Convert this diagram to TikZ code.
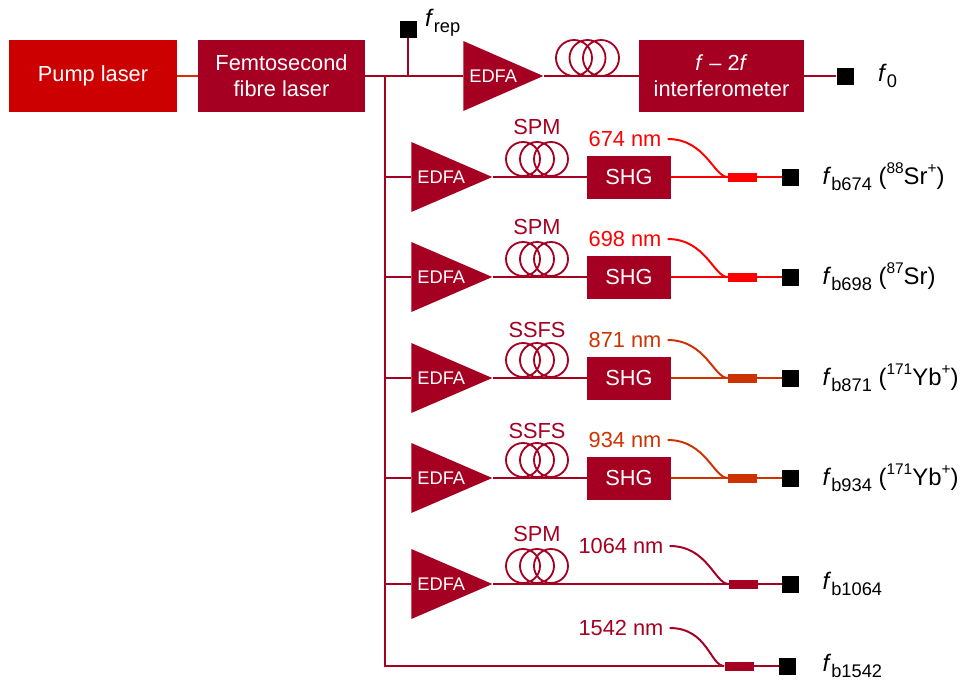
\documentclass[tikz,border=0pt]{standalone}
\usepackage{fontspec}
\setmainfont{Liberation Sans}
\usetikzlibrary{shapes.geometric,positioning}

\definecolor{crimson}{HTML}{A50021}
\definecolor{pumpred}{HTML}{CC0000}
\definecolor{visred}{HTML}{FF0000}
\definecolor{nirorange}{HTML}{CC3300}

\newcommand{\fsub}[1]{\textit{f}\raisebox{-0.5ex}{\fontsize{13}{15}\selectfont #1}}
\newcommand{\fsup}[1]{\raisebox{0.85ex}{\fontsize{11}{13}\selectfont #1}}

\tikzset{
	box/.style={fill=crimson, text=white, inner sep=0pt, minimum height=18mm, align=center, font=\fontsize{15.5}{18.5}\selectfont},
	shg/.style={fill=crimson, text=white, inner sep=0pt, minimum width=21mm, minimum height=10.75mm, font=\fontsize{15.5}{18.5}\selectfont},
	amp/.style={shape=isosceles triangle, isosceles triangle stretches, fill=crimson, inner sep=0pt, minimum height=20.25mm, minimum width=17.5mm, anchor=west,
		label={[text=white, font=\fontsize{13}{15}\selectfont, xshift=1.75mm]center:EDFA}},
	fibre/.style={draw=crimson, line width=1.4pt},
	coil/.style={draw=crimson, line width=1.3pt},
	det/.style={fill=black, inner sep=0pt, minimum size=4.25mm},
	cpl/.style={fill=#1, inner sep=0pt, minimum width=7.25mm, minimum height=2.25mm},
	nm/.style={inner xsep=1.5mm, inner ysep=0pt, font=\fontsize{15.5}{18.5}\selectfont},
	tag/.style={inner sep=0pt, font=\fontsize{17}{20}\selectfont},
}

\begin{document}
\begin{tikzpicture}[x=0.25mm, y=-0.25mm]
	\useasboundingbox (0,0) rectangle (976,688);
	
	% source and f-2f
	\node[box, fill=pumpred, minimum width=42mm] (pump) at (93,76) {Pump laser};
	\node[box, minimum width=41.75mm] (femto) at (281.5,76) {Femtosecond\\fibre laser};
	\node[amp, minimum height=20mm] (amp0) at (463,76) {};
	\node[box, minimum width=41.25mm] (f2f) at (721.5,76) {\textit{f} -- 2\textit{f}\\interferometer};
	\node[det] (det0) at (845,76) {};
	\node[tag, right=6mm of det0] (lab0) {\fsub{0}};
	\node[det] (detrep) at (408,29) {};
	\node[tag, right=2mm of detrep, yshift=1.5mm] (labrep) {\fsub{rep}};
	\coordinate (split) at (385,76);
	\coordinate (tap) at (408,76);
	\coordinate (foot) at (385,666);
	
	\draw[fibre, draw=nirorange] (pump.east) -- (femto.west);
	\draw[fibre] (femto.east) -- (amp0.west);
	\draw[fibre] (amp0.east) -- (f2f.west);
	\draw[fibre] (f2f.east) -- (det0.west);
	\draw[fibre] (tap) -- (detrep.south);
	\draw[coil] (574,58) circle[radius=18] (587.5,58) circle[radius=18] (601,58) circle[radius=18];
	
	% amplifiers
	\node[amp] (amp1) at (411,177) {};
	\node[amp] (amp2) at (411,277) {};
	\node[amp] (amp3) at (411,378) {};
	\node[amp] (amp4) at (411,478) {};
	\node[amp] (amp5) at (411,584) {};
	
	\node[text=crimson, nm] (nl1) at (537,127) {SPM};
	\node[text=crimson, nm] (nl2) at (537,227) {SPM};
	\node[text=crimson, nm] (nl3) at (537,330) {SSFS};
	\node[text=crimson, nm] (nl4) at (537,431) {SSFS};
	\node[text=crimson, nm] (nl5) at (537,534) {SPM};
	
	\draw[coil] (523,159) circle[radius=17] (537,159) circle[radius=17] (551,159) circle[radius=17];
	\draw[coil] (523,259) circle[radius=17] (537,259) circle[radius=17] (551,259) circle[radius=17];
	\draw[coil] (523,360) circle[radius=17] (537,360) circle[radius=17] (551,360) circle[radius=17];
	\draw[coil] (523,460) circle[radius=17] (537,460) circle[radius=17] (551,460) circle[radius=17];
	\draw[coil] (523,566) circle[radius=17] (537,566) circle[radius=17] (551,566) circle[radius=17];
	
	% doublers
	\node[shg] (shg1) at (629,177) {SHG};
	\node[shg] (shg2) at (629,277) {SHG};
	\node[shg] (shg3) at (629,378) {SHG};
	\node[shg] (shg4) at (629,478) {SHG};
	
	% wavelengths
	\node[nm, text=visred] (w1) at (625,139) {674 nm};
	\node[nm, text=visred] (w2) at (625,239) {698 nm};
	\node[nm, text=nirorange] (w3) at (625,340) {871 nm};
	\node[nm, text=nirorange] (w4) at (625,440) {934 nm};
	\node[nm, text=crimson] (w5) at (621,546) {1064 nm};
	\node[nm, text=crimson] (w6) at (621,628) {1542 nm};
	
	% couplers and beat detectors
	\node[cpl=visred] (cpl1) at (742.5,177) {};
	\node[cpl=visred] (cpl2) at (742.5,277) {};
	\node[cpl=nirorange] (cpl3) at (742.5,378) {};
	\node[cpl=nirorange] (cpl4) at (742.5,478) {};
	\node[cpl=crimson] (cpl5) at (743.5,584) {};
	\node[cpl=crimson] (cpl6) at (739,666) {};
	
	\node[det] (det1) at (790.5,177) {};
	\node[det] (det2) at (790.5,277) {};
	\node[det] (det3) at (790.5,378) {};
	\node[det] (det4) at (790.5,478) {};
	\node[det] (det5) at (790.5,584) {};
	\node[det] (det6) at (787.5,666) {};
	
	\node[tag, right=5.75mm of det1] (lab1) {\fsub{b674} (\fsup{88}Sr\fsup{+})};
	\node[tag, right=5.75mm of det2] (lab2) {\fsub{b698} (\fsup{87}Sr)};
	\node[tag, right=5.75mm of det3] (lab3) {\fsub{b871} (\fsup{171}Yb\fsup{+})};
	\node[tag, right=5.75mm of det4] (lab4) {\fsub{b934} (\fsup{171}Yb\fsup{+})};
	\node[tag, right=5.75mm of det5] (lab5) {\fsub{b1064}};
	\node[tag, right=6.5mm of det6] (lab6) {\fsub{b1542}};
	
	% fibre runs
	\draw[fibre] (split) -- (foot) -- (cpl6.west);
	\draw[fibre] (amp1.west -| split) -- (amp1.west);
	\draw[fibre] (amp2.west -| split) -- (amp2.west);
	\draw[fibre] (amp3.west -| split) -- (amp3.west);
	\draw[fibre] (amp4.west -| split) -- (amp4.west);
	\draw[fibre] (amp5.west -| split) -- (amp5.west);
	
	\draw[fibre] (amp1.east) -- (shg1.west);
	\draw[fibre] (amp2.east) -- (shg2.west);
	\draw[fibre] (amp3.east) -- (shg3.west);
	\draw[fibre] (amp4.east) -- (shg4.west);
	\draw[fibre] (amp5.east) -- (cpl5.west);
	
	\draw[fibre, draw=visred] (shg1.east) -- (cpl1.west) (cpl1.east) -- (det1.west);
	\draw[fibre, draw=visred] (shg2.east) -- (cpl2.west) (cpl2.east) -- (det2.west);
	\draw[fibre, draw=nirorange] (shg3.east) -- (cpl3.west) (cpl3.east) -- (det3.west);
	\draw[fibre, draw=nirorange] (shg4.east) -- (cpl4.west) (cpl4.east) -- (det4.west);
	\draw[fibre] (cpl5.east) -- (det5.west);
	\draw[fibre] (cpl6.east) -- (det6.west);
	
	\draw[fibre, draw=visred] (w1.east) .. controls +(38,0) and +(-14,0) .. (cpl1.west);
	\draw[fibre, draw=visred] (w2.east) .. controls +(38,0) and +(-14,0) .. (cpl2.west);
	\draw[fibre, draw=nirorange] (w3.east) .. controls +(38,0) and +(-14,0) .. (cpl3.west);
	\draw[fibre, draw=nirorange] (w4.east) .. controls +(38,0) and +(-14,0) .. (cpl4.west);
	\draw[fibre] (w5.east) .. controls +(38,0) and +(-14,0) .. (cpl5.west);
	\draw[fibre] (w6.east) .. controls +(38,0) and +(-14,0) .. (cpl6.west);
	
\end{tikzpicture}
\end{document}
